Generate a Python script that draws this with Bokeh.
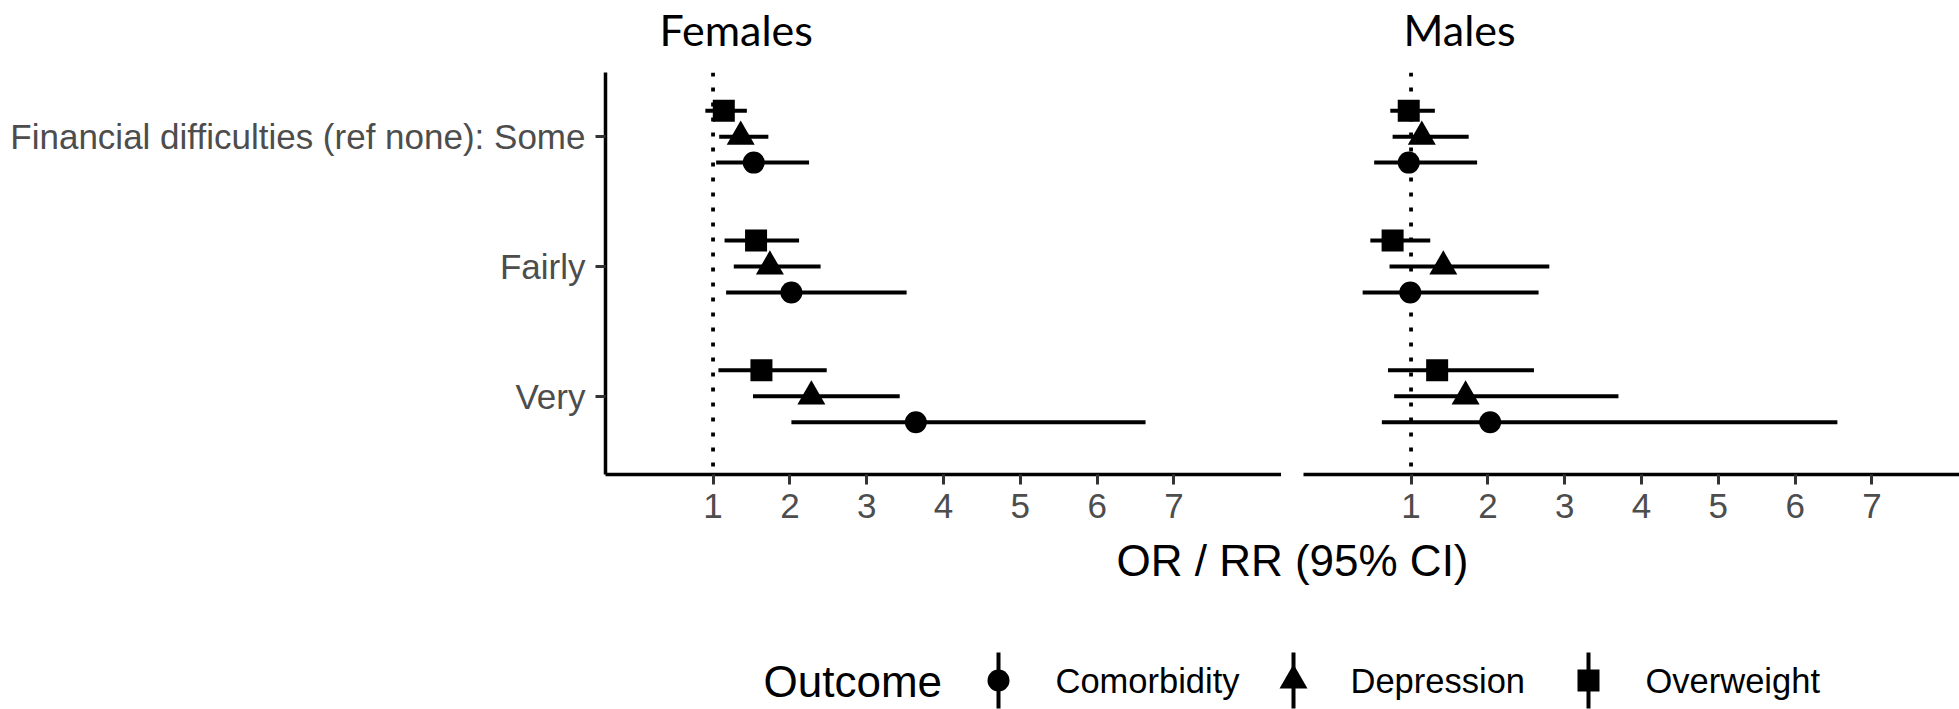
from bokeh.plotting import figure
from bokeh.layouts import column, row
from bokeh.models import Range1d, FixedTicker, Span, ColumnDataSource
from bokeh.core.properties import value
from bokeh.embed import file_html
from bokeh.resources import INLINE

# ---------------- data ----------------
levels = ["Some", "Fairly", "Very"]
level_labels = ["Financial difficulties (ref none): Some", "Fairly", "Very"]
outcomes = ["Comorbidity", "Depression", "Overweight"]
outcome_markers = ["circle", "triangle", "square"]
panels = ["Females", "Males"]
x_ticks = [1, 2, 3, 4, 5, 6, 7]
legend_title = "Outcome"
x_title = "OR / RR (95% CI)"

female_comorbidity_est = [1.53, 2.02, 3.64]
female_comorbidity_lo = [1.04, 1.17, 2.02]
female_comorbidity_hi = [2.25, 3.52, 6.63]
female_depression_est = [1.36, 1.74, 2.28]
female_depression_lo = [1.08, 1.27, 1.52]
female_depression_hi = [1.72, 2.40, 3.43]
female_overweight_est = [1.14, 1.56, 1.63]
female_overweight_lo = [0.90, 1.15, 1.07]
female_overweight_hi = [1.44, 2.12, 2.48]

male_comorbidity_est = [0.97, 0.99, 2.03]
male_comorbidity_lo = [0.52, 0.37, 0.62]
male_comorbidity_hi = [1.86, 2.66, 6.55]
male_depression_est = [1.14, 1.42, 1.71]
male_depression_lo = [0.76, 0.72, 0.78]
male_depression_hi = [1.75, 2.80, 3.70]
male_overweight_est = [0.97, 0.76, 1.34]
male_overweight_lo = [0.73, 0.47, 0.70]
male_overweight_hi = [1.31, 1.25, 2.60]

data = {
    "Females": {
        "Comorbidity": (female_comorbidity_est, female_comorbidity_lo, female_comorbidity_hi),
        "Depression": (female_depression_est, female_depression_lo, female_depression_hi),
        "Overweight": (female_overweight_est, female_overweight_lo, female_overweight_hi),
    },
    "Males": {
        "Comorbidity": (male_comorbidity_est, male_comorbidity_lo, male_comorbidity_hi),
        "Depression": (male_depression_est, male_depression_lo, male_depression_hi),
        "Overweight": (male_overweight_est, male_overweight_lo, male_overweight_hi),
    },
}

# ---------------- styling / layout ----------------
TEXT_FONT = "Liberation Sans"
TITLE_FONT = "Lato"
GREY_TEXT = "#4D4D4D"
GREY_TICK = "#333333"
marker_sizes = [22, 28, 22]
LINE_W = 4

PAGE_W = 1959
PAGE_H = 709
HEAD_H = 72
FRAME_H = 402
AXIS_B = 60
FOOT_TOP = HEAD_H + FRAME_H + AXIS_B
FOOT_H = PAGE_H - FOOT_TOP
F_BORDER_L = 605
F_FRAME_W = 676
M_GAP = 22
M_FRAME_W = PAGE_W - F_BORDER_L - F_FRAME_W - M_GAP
X_START, X_END = -0.4, 8.4
PX_PER_UNIT = F_FRAME_W / (X_END - X_START)
Y_START, Y_END = 0.398, 3.494
DODGE = 0.2


def style_common(p):
    p.outline_line_color = None
    p.background_fill_color = "white"
    p.border_fill_color = "white"
    p.grid.visible = False


def make_panel(name, border_left, frame_w, show_y):
    x_end = X_START + frame_w / PX_PER_UNIT
    p = figure(width=border_left + frame_w, height=FRAME_H + AXIS_B,
               x_range=Range1d(X_START, x_end), y_range=Range1d(Y_START, Y_END),
               output_backend="svg", toolbar_location=None,
               y_axis_location="left" if show_y else None,
               min_border_left=border_left, min_border_right=0,
               min_border_top=0, min_border_bottom=AXIS_B)
    style_common(p)
    p.add_layout(Span(location=1, dimension="height", line_color="black",
                      line_width=3.8, line_dash="4 11"))
    n = len(levels)
    for k, outcome in enumerate(outcomes):
        est, lo, hi = data[name][outcome]
        ys = [n - i + (k - 1) * DODGE for i in range(n)]
        src = ColumnDataSource(dict(est=est, lo=lo, hi=hi, y=ys))
        p.segment(x0="lo", x1="hi", y0="y", y1="y", source=src,
                  line_color="black", line_width=LINE_W)
        p.scatter(x="est", y="y", source=src, marker=outcome_markers[k],
                  size=marker_sizes[k], fill_color="black", line_color=None)
    for ax in p.axis:
        ax.axis_label = None
        ax.axis_line_color = "black"
        ax.axis_line_width = 3.5
        ax.major_tick_line_color = GREY_TICK
        ax.major_tick_line_width = 3
        ax.major_tick_out = 10
        ax.major_tick_in = 0
        ax.minor_tick_line_color = None
        ax.major_label_text_font = TEXT_FONT
        ax.major_label_text_font_size = "35px"
        ax.major_label_text_color = GREY_TEXT
    p.xaxis.ticker = FixedTicker(ticks=x_ticks)
    p.xaxis.major_label_standoff = 9
    if show_y:
        p.yaxis.ticker = FixedTicker(ticks=[n - i for i in range(n)])
        p.yaxis.major_label_overrides = {n - i: lab for i, lab in enumerate(level_labels)}
        p.yaxis.major_label_standoff = 10
    return p


female = make_panel("Females", F_BORDER_L, F_FRAME_W, True)
male = make_panel("Males", M_GAP, M_FRAME_W, False)

# ---------------- strip titles ----------------
head = figure(width=PAGE_W, height=HEAD_H,
              x_range=Range1d(0, PAGE_W), y_range=Range1d(HEAD_H, 0),
              output_backend="svg", toolbar_location=None,
              x_axis_location=None, y_axis_location=None, min_border=0)
style_common(head)
head.text(x=[659, 1403], y=[29, 29], text=panels, text_font=value(TITLE_FONT),
          text_font_size="43px", text_baseline="middle", text_align="left",
          text_color="black")

# ---------------- x title + legend ----------------
KEY0_PX = 998      # page x of first legend key
KEY_STEP = 295     # px per legend key
KEY_Y_PX = 680     # page y of legend key centre
KEY_HALF = 28      # px per y unit


def px_x(px):
    return (px - KEY0_PX) / KEY_STEP


def px_y(py):
    return (KEY_Y_PX - py) / KEY_HALF


foot = figure(width=PAGE_W, height=FOOT_H,
              x_range=Range1d(px_x(0), px_x(PAGE_W)),
              y_range=Range1d(px_y(PAGE_H), px_y(FOOT_TOP)),
              output_backend="svg", toolbar_location=None,
              x_axis_location=None, y_axis_location=None, min_border=0)
style_common(foot)

key_x = list(range(len(outcomes)))
key_src = ColumnDataSource(dict(x=key_x, y=[0] * len(outcomes), y0=[-1] * len(outcomes),
                                y1=[1] * len(outcomes), label=outcomes,
                                marker=outcome_markers, size=marker_sizes))
foot.segment(x0="x", x1="x", y0="y0", y1="y1", source=key_src,
             line_color="black", line_width=LINE_W)
foot.scatter(x="x", y="y", marker="marker", size="size", source=key_src,
             fill_color="black", line_color=None)
foot.text(x="x", y="y", text="label", source=key_src, x_offset=57,
          text_font=value(TEXT_FONT), text_font_size="34.5px",
          text_baseline="middle", text_align="left", text_color="black")
foot.text(x=[px_x(763)], y=[px_y(681)], text=[legend_title], text_font=value(TEXT_FONT),
          text_font_size="44px", text_baseline="middle", text_align="left",
          text_color="black")
foot.text(x=[px_x(1292)], y=[px_y(560)], text=[x_title], text_font=value(TEXT_FONT),
          text_font_size="44px", text_baseline="middle", text_align="center",
          text_color="black")

layout = column(head, row(female, male, spacing=0), foot, spacing=0)

open("out.html", "w").write(file_html(layout, INLINE))
